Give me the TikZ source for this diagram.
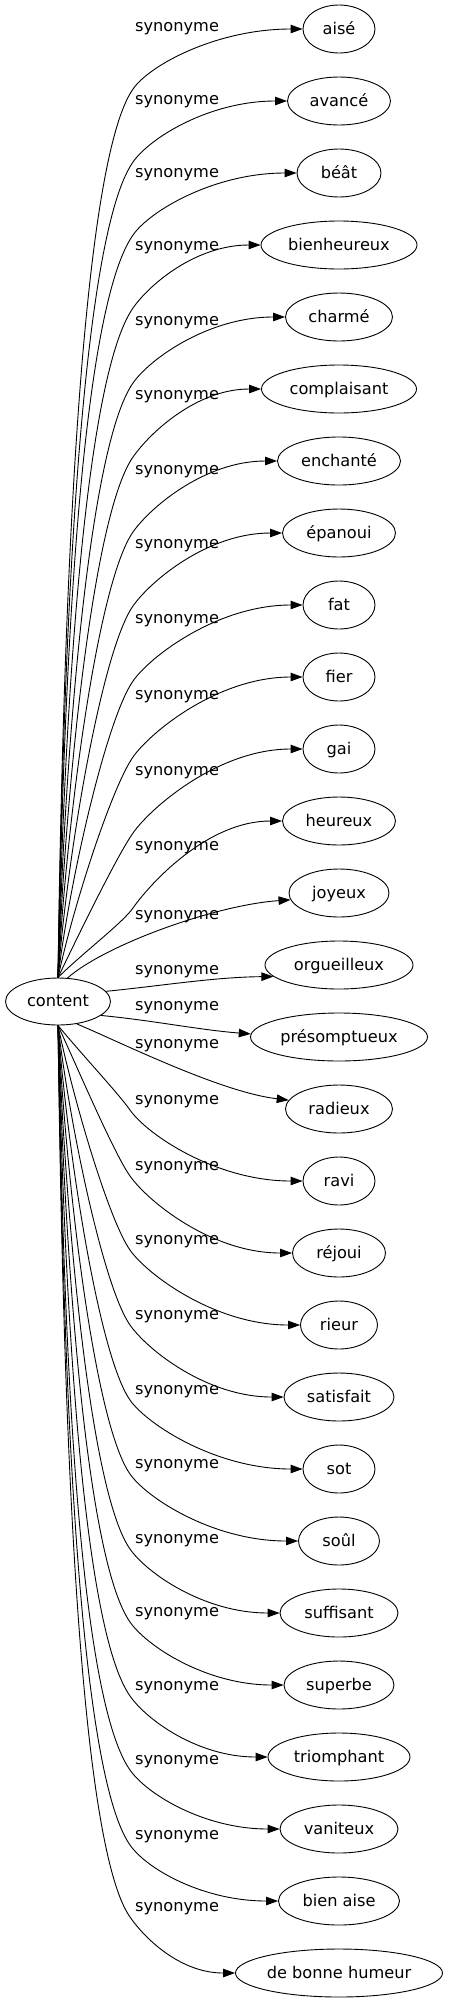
\documentclass[tikz,border=0pt]{standalone}
\usepackage{fontspec}
\setmainfont{DejaVu Sans}
\usetikzlibrary{shapes.geometric,arrows.meta}

\tikzset{
	word/.style={ellipse, draw, line width=0.9bp, minimum height=48bp, inner xsep=0pt, text height=14bp, text depth=3.4bp},
	link/.style={-{Triangle[length=12bp,width=8.5bp]}, line width=0.9bp},
	synlabel/.style={anchor=west, inner sep=0pt},
}

\begin{document}
\begin{tikzpicture}[x=1bp, y=-1bp, font=\fontsize{16.25}{19}\selectfont]
	
	\fill[white] (0,0) rectangle (449,2003);
	
	% centre word
	\node[word, minimum width=105bp, minimum height=47bp] (content) at (58,1001.5) {content};
	
	% upper fan
	\foreach \nm/\txt/\w/\ty/\ly in {aise/aisé/72/29/29, avance/avancé/103/101/102, beat/béât/84/173/175,
		bienheureux/bienheureux/156/245/248, charme/charmé/107/317/323, complaisant/complaisant/155/389/397,
		enchante/enchanté/123/461/472, epanoui/épanoui/113/533/546, fat/fat/72/605/621,
		fier/fier/72/677/697, gai/gai/72/749/773, heureux/heureux/113/821/848}{
		\node[word, minimum width=\w bp] (\nm) at (339,\ty) {\txt};
		\node[synlabel] (l\nm) at (135,\ly) {synonyme};
		\pgfmathsetmacro\ey{\ly+60}
		\pgfmathsetmacro\da{0.33*(978-\ey)}
		\pgfmathsetmacro\dx{23*min(1,150/(978-\ey))}
		\pgfmathsetmacro\db{min(0.12*(978-\ey)+10,100)}
		\pgfmathsetmacro\dn{0.5*(206-\w/2)}
		\draw[link] (content.north) .. controls +(\dx,-\da) and +(125:\db) .. (133,\ey)
			.. controls +(-55:30) and +(-\dn,0) .. (\nm.west);
	}
	
	% the four in the middle
	\node[word, minimum width=100bp] (joyeux) at (339,893) {joyeux};
	\node[word, minimum width=148bp] (orgueilleux) at (339,965) {orgueilleux};
	\node[word, minimum width=177bp] (presomptueux) at (339,1037) {présomptueux};
	\node[word, minimum width=107bp] (radieux) at (339,1109) {radieux};
	\node[synlabel] (ljoyeux) at (135,917) {synonyme};
	\node[synlabel] (lorgueilleux) at (135,972) {synonyme};
	\node[synlabel] (lpresomptueux) at (135,1008) {synonyme};
	\node[synlabel] (lradieux) at (135,1046) {synonyme};
	\draw[link] (content.68) .. controls (105,945) and (215,905) .. (joyeux.188);
	\draw[link] (content.12) .. controls (160,986) and (215,977) .. (orgueilleux.190);
	\draw[link] (content.-18) .. controls (150,1020) and (200,1030) .. (presomptueux.178);
	\draw[link] (content.-50) .. controls (120,1042) and (220,1092) .. (radieux.170);
	
	% lower fan
	\foreach \nm/\txt/\w/\ty/\ly in {ravi/ravi/72/1181/1102, rejoui/réjoui/93/1253/1168, rieur/rieur/77/1325/1242,
		satisfait/satisfait/110/1397/1317, sot/sot/72/1469/1392, soul/soûl/81/1541/1466,
		suffisant/suffisant/118/1613/1541, superbe/superbe/110/1685/1614, triomphant/triomphant/142/1757/1688,
		vaniteux/vaniteux/118/1829/1762, bienaise/bien aise/121/1901/1837, bonnehumeur/de bonne humeur/207/1973/1909}{
		\node[word, minimum width=\w bp] (\nm) at (339,\ty) {\txt};
		\node[synlabel] (l\nm) at (135,\ly) {synonyme};
		\pgfmathsetmacro\ey{\ly+8}
		\pgfmathsetmacro\da{0.33*(\ey-1025)}
		\pgfmathsetmacro\dx{23*min(1,150/(\ey-1025))}
		\pgfmathsetmacro\db{min(0.12*(\ey-1025)+10,100)}
		\pgfmathsetmacro\dn{0.5*(209-\w/2)}
		\draw[link] (content.south) .. controls +(\dx,\da) and +(-125:\db) .. (130,\ey)
			.. controls +(55:30) and +(-\dn,0) .. (\nm.west);
	}
	
\end{tikzpicture}
\end{document}
